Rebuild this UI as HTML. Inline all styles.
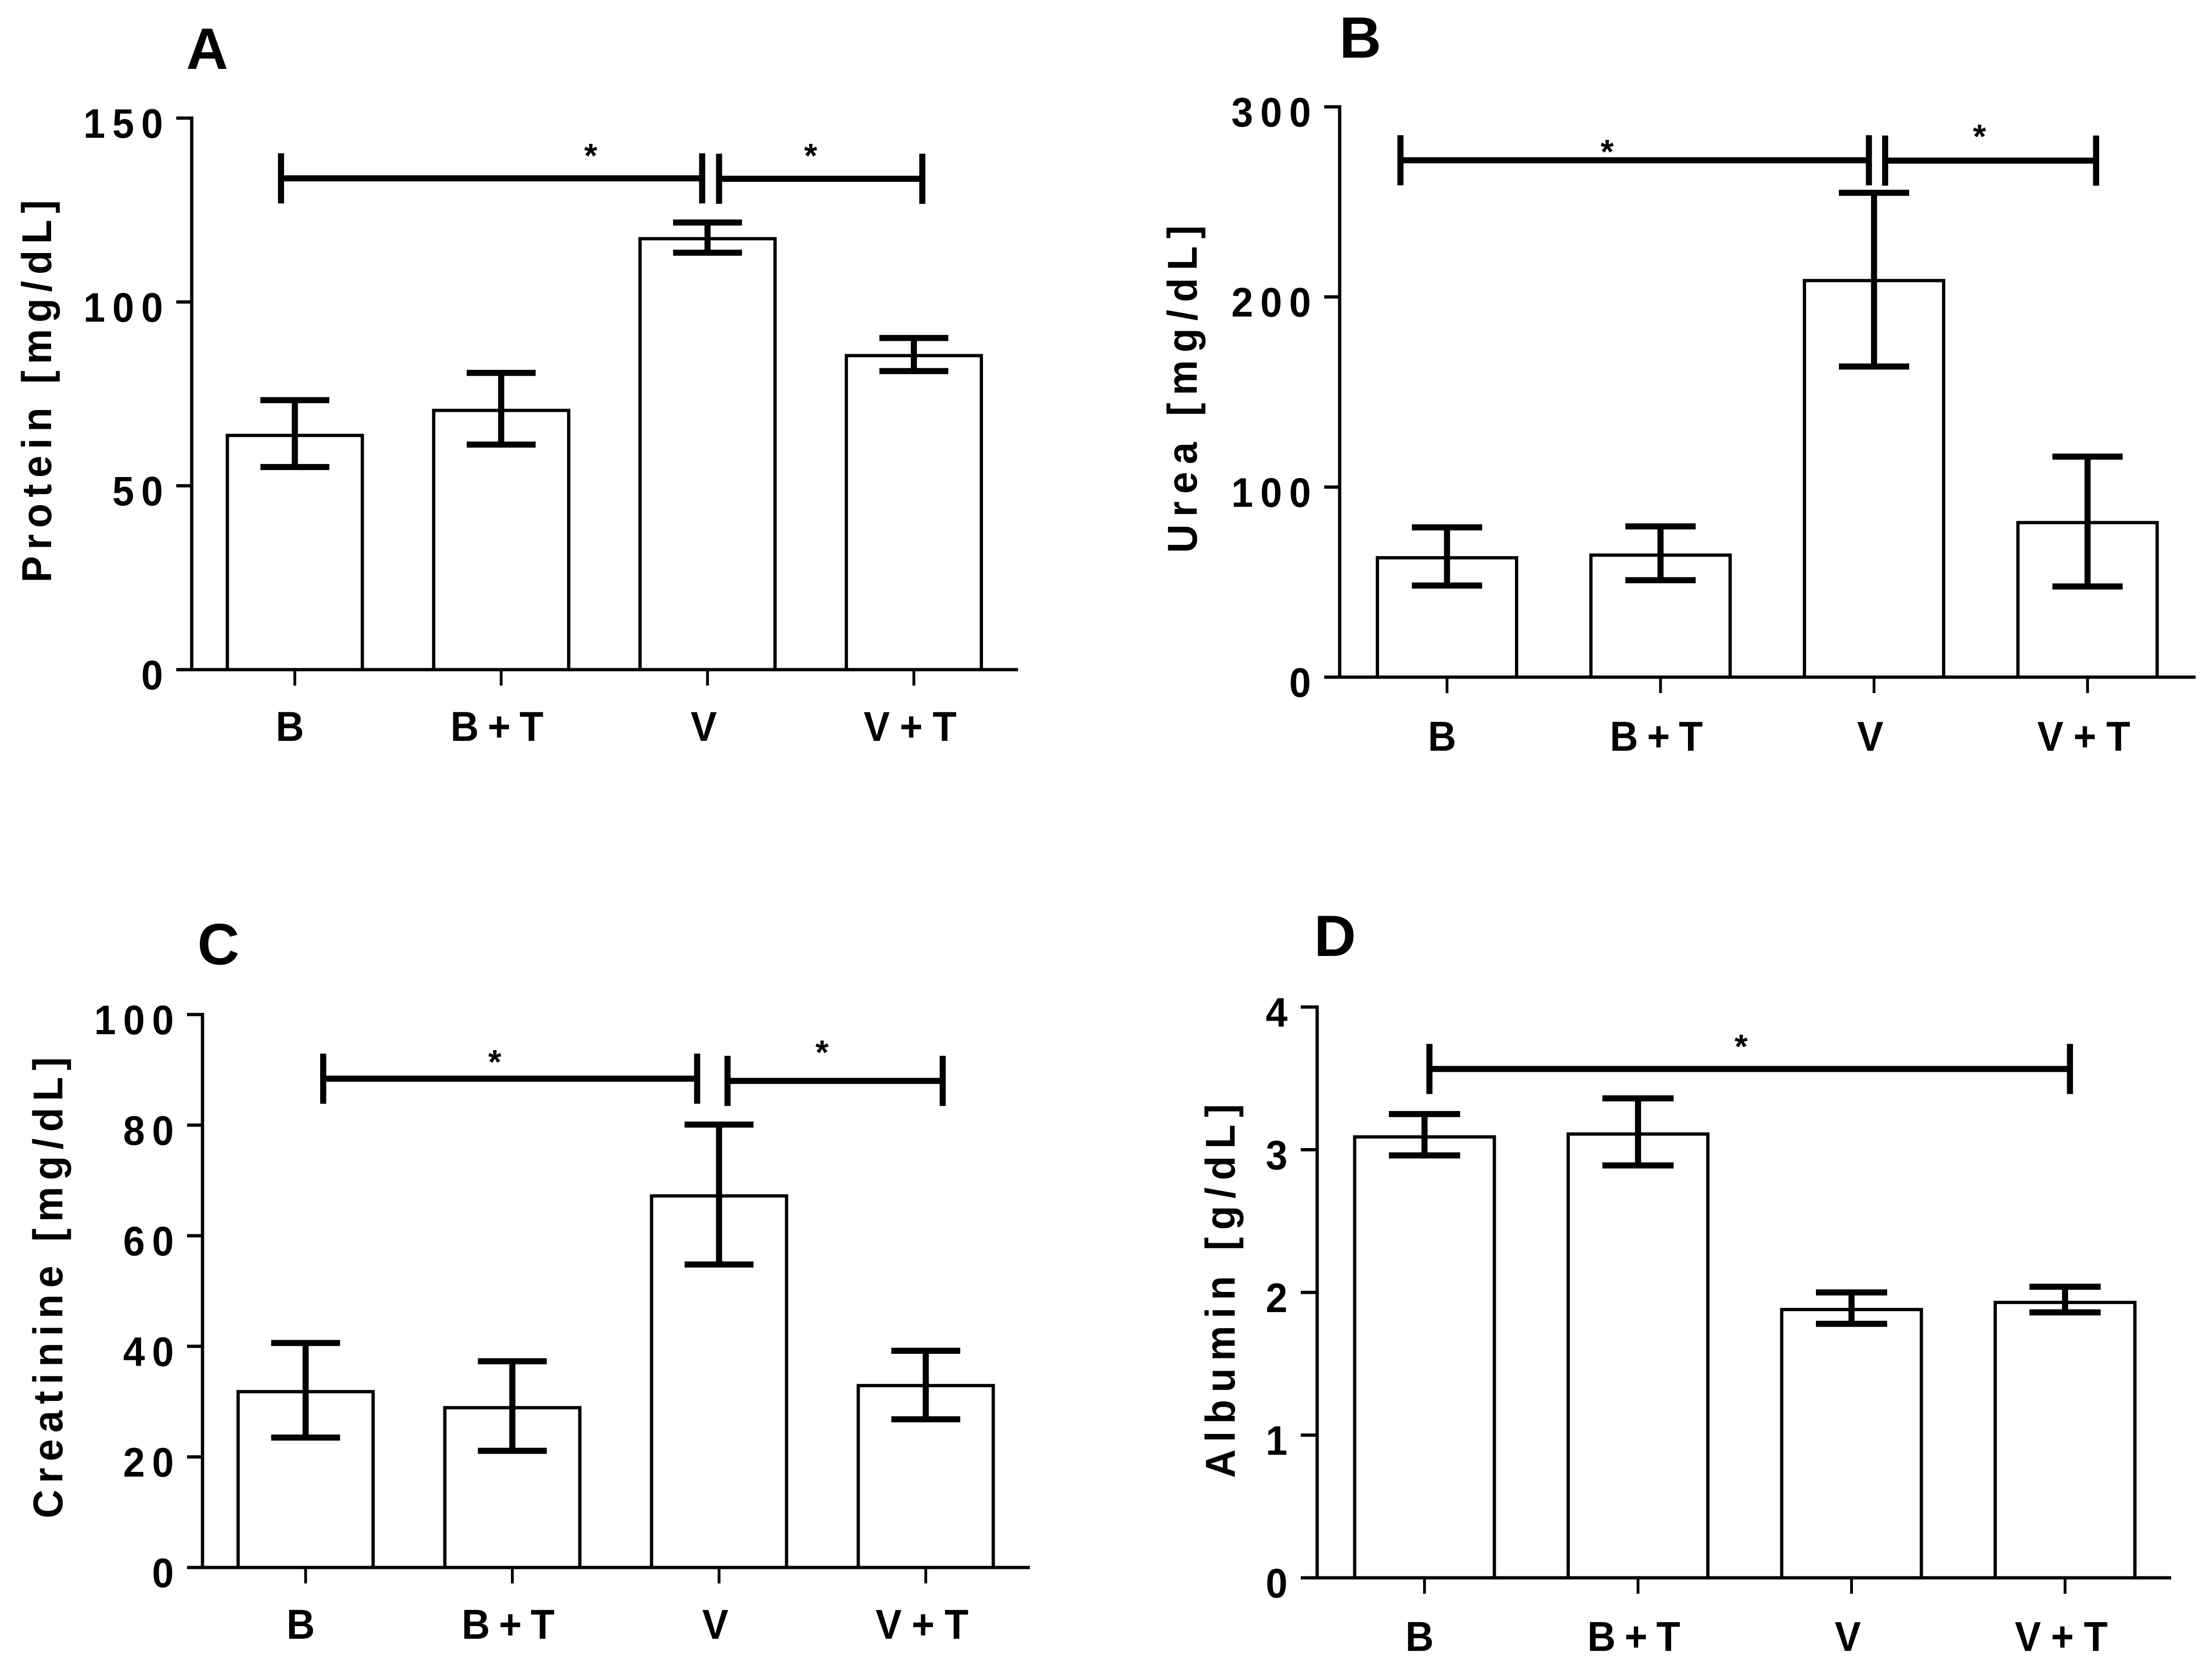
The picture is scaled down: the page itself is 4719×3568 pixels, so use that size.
<!DOCTYPE html>
<html lang="en">
<head>
<meta charset="utf-8">
<title>Serum biochemistry bar charts</title>
<style>
html,body{margin:0;padding:0;background:#fff;}
svg{display:block;}
text{font-family:"Liberation Sans",Arial,sans-serif;fill:#000;}
</style>
</head>
<body>
<svg id="figure" xmlns="http://www.w3.org/2000/svg" width="4719" height="3568" viewBox="0 0 4719 3568">
<rect x="0" y="0" width="4719" height="3568" fill="#fff"/>
</svg>
<script>
const categories = ['B', 'B + T', 'V', 'V + T'];

const proteinTicks = [0, 50, 100, 150];
const proteinMeans = [63.7, 70.5, 117.2, 85.4];
const proteinUpper = [73.3, 80.7, 121.6, 90.2];
const proteinLower = [55.1, 61.2, 113.4, 81.2];

const ureaTicks = [0, 100, 200, 300];
const ureaMeans = [62.8, 64.2, 208.6, 81.3];
const ureaUpper = [78.8, 79.3, 254.8, 116];
const ureaLower = [48.2, 51, 163.4, 47.7];

const creatinineTicks = [0, 20, 40, 60, 80, 100];
const creatinineMeans = [31.8, 28.9, 67.2, 32.9];
const creatinineUpper = [40.6, 37.3, 80.1, 39.2];
const creatinineLower = [23.5, 21.1, 54.8, 26.8];

const albuminTicks = [0, 1, 2, 3, 4];
const albuminMeans = [3.09, 3.11, 1.88, 1.93];
const albuminUpper = [3.25, 3.36, 2.0, 2.04];
const albuminLower = [2.96, 2.89, 1.78, 1.86];

const SVG_NS = 'http://www.w3.org/2000/svg';
const root = document.getElementById('figure');

function make(parent, tag, attrs) {
  const node = document.createElementNS(SVG_NS, tag);
  for (const key in attrs) node.setAttribute(key, attrs[key]);
  parent.appendChild(node);
  return node;
}

function segment(parent, x1, y1, x2, y2, width, name) {
  const el = make(parent, 'line', {x1: x1, y1: y1, x2: x2, y2: y2, stroke: '#000', 'stroke-width': width});
  
  
  return el;
}

function createAxes(cfg) {
  const yScale = v => cfg.base - (v / cfg.yMax) * (cfg.base - cfg.top);
  const xScale = i => cfg.cat0 + i * cfg.step;
  return {yScale: yScale, xScale: xScale, cfg: cfg};
}

function drawBars(ax, group, means, upper, lower) {
  const c = ax.cfg;
  means.forEach((value, i) => {
    const cx = ax.xScale(i);
    const y = ax.yScale(value);
    const el = make(group, 'rect', {x: cx - c.barW / 2, y: y, width: c.barW, height: c.base - y, fill: '#fff', stroke: '#000', 'stroke-width': 7});
    
    
  });
  means.forEach((value, i) => {
    const cx = ax.xScale(i);
    const yu = ax.yScale(upper[i]);
    const yl = ax.yScale(lower[i]);
    segment(group, cx, yu, cx, yl, 13, 'error-bar-stem');
    segment(group, cx - c.capW / 2, yu, cx + c.capW / 2, yu, 13, 'error-bar-upper-cap');
    segment(group, cx - c.capW / 2, yl, cx + c.capW / 2, yl, 13, 'error-bar-lower-cap');
  });
}

function drawAxes(ax, group, ticks, title) {
  const c = ax.cfg;
  segment(group, c.x0, c.top - 3.5, c.x0, c.base + 3.5, 7, 'y-axis');
  segment(group, c.xStart, c.base, c.xEnd, c.base, 7, 'x-axis');
  ticks.forEach(t => {
    const y = ax.yScale(t);
    segment(group, c.xStart, y, c.x0, y, 7, 'y-tick');
    const el = make(group, 'text', {transform: 'translate(' + (c.xStart - 13) + ',' + (y + 42) + ') scale(0.95,1)', x: 0, y: 0, 'text-anchor': 'end', 'font-size': 88, 'font-weight': 700, 'letter-spacing': 16});
    el.textContent = String(t);
    
    
  });
  categories.forEach((name, i) => {
    const x = ax.xScale(i);
    segment(group, x, c.base, x, c.base + 34, 6, 'x-tick');
    const shift = name === 'B' ? -10.5 : (name === 'B + T' ? -9 : -8);
    const attrs = {transform: 'translate(' + (x + shift) + ',' + (c.base + c.labelDy) + ') scale(0.94,1)', x: 0, y: 0, 'text-anchor': 'middle', 'font-size': 89, 'font-weight': 700, 'xml:space': 'preserve'};
    if (name.length > 1) { attrs.textLength = 211; attrs.lengthAdjust = 'spacing'; }
    const el = make(group, 'text', attrs);
    el.textContent = name;
    
    
  });
  const t = make(group, 'text', {
    transform: 'translate(' + c.titleX + ',' + c.titleStart + ') rotate(-90) scale(0.95,1)',
    x: 0, y: 0, 'font-size': 89, 'font-weight': 700,
    textLength: (c.titleStart - c.titleEnd) / 0.95, lengthAdjust: 'spacing'
  });
  t.textContent = title;
  
  
}

function bracket(ax, group, catA, catB, value) {
  const xa = ax.xScale(catA);
  const xb = ax.xScale(catB);
  const y = ax.yScale(value);
  segment(group, xa, y, xb, y, 13, 'significance-line');
  segment(group, xa, y - 53.5, xa, y + 53.5, 13, 'significance-end-left');
  segment(group, xb, y - 53.5, xb, y + 53.5, 13, 'significance-end-right');
}

function star(ax, group, cat, value) {
  const el = make(group, 'text', {x: ax.xScale(cat), y: ax.yScale(value) + 29, 'text-anchor': 'middle', 'font-size': 72, 'font-weight': 700});
  el.textContent = '*';
  
  
}

function panelLetter(group, letter, x, y) {
  const el = make(group, 'text', {x: x, y: y, 'text-anchor': 'middle', 'font-size': 124, 'font-weight': 700});
  el.textContent = letter;
  
  
}

function panelGroup(name) {
  const g = make(root, 'g', {});
  
  
  return g;
}

/* Panel A */
const gA = panelGroup('panel-a-protein');
const axA = createAxes({x0: 409, top: 252, base: 1429, xStart: 376, xEnd: 2172, cat0: 629, step: 440.2, barW: 288, capW: 147, yMax: 150, labelDy: 152, titleX: 109, titleStart: 1243, titleEnd: 427});
drawBars(axA, gA, proteinMeans, proteinUpper, proteinLower);
drawAxes(axA, gA, proteinTicks, 'Protein [mg/dL]');
bracket(axA, gA, -0.067, 1.974, 133.6);
bracket(axA, gA, 2.056, 3.041, 133.5);
star(axA, gA, 1.434, 140.3);
star(axA, gA, 2.5, 140.3);
panelLetter(gA, 'A', 442, 147);

/* Panel B */
const gB = panelGroup('panel-b-urea');
const axB = createAxes({x0: 2858, top: 228, base: 1445, xStart: 2825, xEnd: 4684, cat0: 3087, step: 455.5, barW: 297, capW: 150, yMax: 300, labelDy: 157, titleX: 2553, titleStart: 1180, titleEnd: 481});
drawBars(axB, gB, ureaMeans, ureaUpper, ureaLower);
drawAxes(axB, gB, ureaTicks, 'Urea [mg/dL]');
bracket(axB, gB, -0.218, 1.976, 271.9);
bracket(axB, gB, 2.052, 3.04, 271.7);
star(axB, gB, 0.75, 277.5);
star(axB, gB, 2.494, 285.4);
panelLetter(gB, 'B', 2902, 123);

/* Panel C */
const gC = panelGroup('panel-c-creatinine');
const axC = createAxes({x0: 432, top: 2165, base: 3345, xStart: 399, xEnd: 2197, cat0: 652, step: 441, barW: 288, capW: 147, yMax: 100, labelDy: 152, titleX: 133, titleStart: 3240, titleEnd: 2256});
drawBars(axC, gC, creatinineMeans, creatinineUpper, creatinineLower);
drawAxes(axC, gC, creatinineTicks, 'Creatinine [mg/dL]');
bracket(axC, gC, 0.085, 1.894, 88.4);
bracket(axC, gC, 2.041, 3.082, 88.0);
star(axC, gC, 0.915, 91.8);
star(axC, gC, 2.498, 93.5);
panelLetter(gC, 'C', 466, 2058);

/* Panel D */
const gD = panelGroup('panel-d-albumin');
const axD = createAxes({x0: 2810, top: 2149, base: 3367, xStart: 2775, xEnd: 4632, cat0: 3039, step: 455.5, barW: 298, capW: 152, yMax: 4, labelDy: 156, titleX: 2634, titleStart: 3154, titleEnd: 2356});
drawBars(axD, gD, albuminMeans, albuminUpper, albuminLower);
drawAxes(axD, gD, albuminTicks, 'Albumin [g/dL]');
bracket(axD, gD, 0.023, 3.023, 3.566);
star(axD, gD, 1.483, 3.737);
panelLetter(gD, 'D', 2848, 2040);
</script>
</body>
</html>
